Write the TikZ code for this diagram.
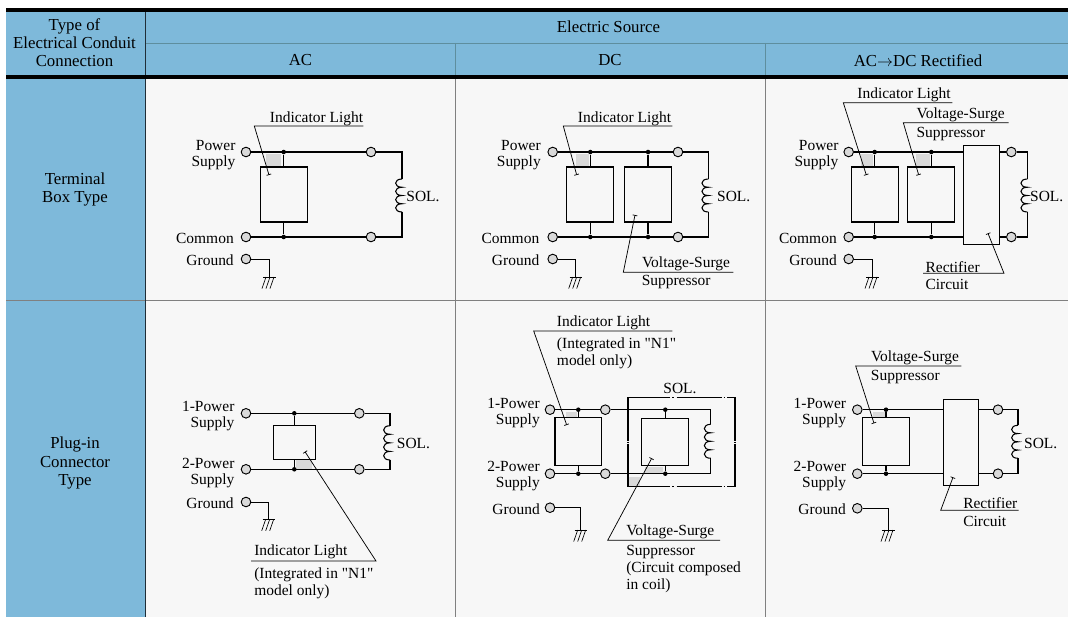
\documentclass[tikz,border=0pt]{standalone}
\usepackage{fontspec}
\setmainfont{Liberation Serif}
\newfontfamily\plainfont{Liberation Serif}
\usetikzlibrary{arrows.meta}
\definecolor{headblue}{HTML}{7EB9DA}
\definecolor{cellgray}{HTML}{F7F7F7}
\definecolor{patchgray}{HTML}{D9D9D9}
\definecolor{headline}{HTML}{5E8E9E}
\tikzset{
  head/.style={inner sep=0,align=center,font=\fontsize{12.6}{13.6}\selectfont},
  lab/.style={inner sep=0,yshift=-1pt,font=\plainfont\fontsize{11.6}{12}\selectfont},
  rlab/.style={lab,anchor=east,align=right},
  llab/.style={lab,anchor=west,align=left},
  wire/.style={line width=0.8pt},
  term/.style={circle,draw,fill=patchgray,line width=0.7pt,inner sep=0,minimum size=7.2pt},
  junc/.style={circle,fill,inner sep=0,minimum size=3.4pt},
  unit/.style={draw,line width=0.8pt,inner sep=0},
  leader/.style={line width=0.55pt,-{Bar[width=3.6pt,length=0pt,line width=0.55pt]}}
}
\begin{document}
\begin{tikzpicture}[x=0.75pt,y=-0.75pt]
\useasboundingbox (0,0) rectangle (1068,617);
% table
\fill[cellgray] (6,79) rectangle (1068,617);
\fill[headblue] (6,11) rectangle (1068,75);
\fill[headblue] (6,79) rectangle (145,617);
\draw[headline,line width=0.7pt] (145,43) -- (1068,43);
\draw[headline,line width=0.7pt] (455,43) -- (455,75);
\draw[headline,line width=0.7pt] (765,43) -- (765,75);
\draw[gray,line width=0.7pt] (6,300.5) -- (1068,300.5);
\draw[gray,line width=0.7pt] (455,79) -- (455,617);
\draw[gray,line width=0.7pt] (765,79) -- (765,617);
\draw[black!75!headblue,line width=0.7pt] (145,11) -- (145,617);
\draw[line width=2.6pt] (6,9.8) -- (1068,9.8);
\draw[line width=2.6pt] (6,77) -- (1068,77);
\node[head] (typecell) at (74.5,43) {Type of\\Electrical Conduit\\Connection};
\node[head] (sourcecell) at (608.5,26.5) {Electric Source};
\node[head] (accell) at (300.5,60.5) {AC};
\node[head] (dccell) at (610,60.5) {DC};
\node[head] (rectcell) at (918,60.5) {AC$\rightarrow$DC Rectified};
\node[head] (boxcell) at (75,189.5) {Terminal\\[0.6pt]Box Type};
\node[head] (plugcell) at (75,463) {Plug-in\\[0.6pt]Connector\\[0.6pt]Type};
% gray patches under the leaders
\foreach \xa/\ya/\xb/\yb in {266/154/281/167, 575.7/154/589/167, 861.3/154/873/167, 916.3/154/929.7/167,
  295.7/460/311.7/469, 566/411.7/577.3/417.7, 645/466.7/663.3/473, 629.3/476.7/640/486, 873/412.3/884.7/417.3}
  \fill[patchgray] (\xa,\ya) rectangle (\xb,\yb);
% terminals
\foreach \t/\x/\y in {aP/246/152, aPr/371/152, aC/246/237, aCr/371/237, aG/246/259,
  bP/552.7/152, bPr/678/152, bC/552.7/237, bCr/678/237, bG/552.7/259,
  cP/848.7/152, cPr/1011.3/152, cC/848.7/237, cCr/1011.3/237, cG/848.7/259,
  dP/246/413.3, dPr/359.3/413.3, dC/246/469.3, dCr/359.3/469.3, dG/246/502,
  eP/550/409.7, ePr/605.3/409.7, eC/550/473.7, eCr/605.3/473.7, eG/550/507.7,
  fP/857.3/409.7, fPr/998/409.7, fC/857.3/473.7, fCr/998/473.7, fG/857.3/508.3}
  \node[term] (\t) at (\x,\y) {};
% junction dots
\foreach \t/\x/\y in {aT/283.7/152, aB/283.7/237, bT/590.3/152, bB/590.3/237, bTs/648/152, bBs/648/237,
  cT/874.7/152, cB/874.7/237, cTs/931.3/152, cBs/931.3/237, dT/294.3/413.3, dB/294.3/469.3,
  eT/578.3/409.7, eB/578.3/473.7, eTs/665.3/409.7, eBs/665.3/473.7, fT/886/409.7, fB/886/473.7}
  \node[junc] (\t) at (\x,\y) {};
% boxes
\foreach \t/\x/\y/\w/\h in {aL/283.7/194.5/47/55, bL/590.3/194.5/47/55, bS/648/194.5/47/55,
  cL/874.7/194.5/47/55, cS/931.3/194.5/47/55, cR/981.7/194.8/36/99, dL/294.3/442.5/41.5/33.5,
  eL/578.3/441.8/46.6/47.7, eS/665.3/442/47/47.4, fL/886/441.3/46.4/48, fR/961.2/442.5/35/85.6}
  \node[unit,minimum width=\w*0.75pt,minimum height=\h*0.75pt] (\t) at (\x,\y) {};
% solenoid coils
\foreach \t/\x/\a/\b in {a/402/179/212, b/708.3/179/212, c/1027.3/179/212, d/390/425.7/460,
  e/710.7/424.3/458.3, f/1018/425.3/458.3} {
  \pgfmathsetmacro{\s}{(\b-\a)/4}
  \coordinate (\t-top) at (\x,\a);
  \coordinate (\t-bot) at (\x,\b);
  \draw[wire] (\t-top) foreach \i in {1,...,4} { .. controls +(-8.5,0) and +(-8.5,0) .. ++(0,\s) };
}
% ground symbols
\foreach \t/\x/\y in {a/269/277, b/575.7/277, c/872/277, d/268.7/519.3, e/580.7/530, f/888/530} {
  \coordinate (\t-gnd) at (\x,\y);
  \draw[line width=0.7pt] (\t G) -| (\t-gnd);
  \draw[line width=0.7pt] ([xshift=-4.5pt]\t-gnd) -- ([xshift=5pt]\t-gnd);
  \foreach \d in {-3,1,5}
    \draw[line width=0.5pt] ([xshift=\d*0.75pt]\t-gnd) -- ++(-4,11.5);
}
% wiring
\draw[wire] (aP) -- (aPr) -| (a-top);
\draw[wire] (aC) -- (aCr) -| (a-bot);
\draw[wire] (aT) -- (aL);
\draw[wire] (aB) -- (aL);
\draw[wire] (bP) -- (bPr) -| (b-top);
\draw[wire] (bC) -- (bCr) -| (b-bot);
\draw[wire] (bT) -- (bL);
\draw[wire] (bB) -- (bL);
\draw[wire] (bTs) -- (bS);
\draw[wire] (bBs) -- (bS);
\draw[wire] (cP) -- (cP -| cR.west);
\draw[wire] (cC) -- (cC -| cR.west);
\draw[wire] (cPr -| cR.east) -- (cPr) -| (c-top);
\draw[wire] (cCr -| cR.east) -- (cCr) -| (c-bot);
\draw[wire] (cT) -- (cL);
\draw[wire] (cB) -- (cL);
\draw[wire] (cTs) -- (cS);
\draw[wire] (cBs) -- (cS);
\draw[wire] (dP) -- (dPr) -| (d-top);
\draw[wire] (dC) -- (dCr) -| (d-bot);
\draw[wire] (dT) -- (dL);
\draw[wire] (dB) -- (dL);
\draw[wire] (eP) -- (ePr) -| (e-top);
\draw[wire] (eC) -- (eCr) -| (e-bot);
\draw[wire] (eT) -- (eL);
\draw[wire] (eB) -- (eL);
\draw[wire] (eTs) -- (eS);
\draw[wire] (eBs) -- (eS);
\draw[wire] (fP) -- (fP -| fR.west);
\draw[wire] (fC) -- (fC -| fR.west);
\draw[wire] (fPr -| fR.east) -- (fPr) -| (f-top);
\draw[wire] (fCr -| fR.east) -- (fCr) -| (f-bot);
\draw[wire] (fT) -- (fL);
\draw[wire] (fB) -- (fL);
% dash-dot solenoid case
\draw[wire] (670,397.3) -| (628,440.5) (628,443.5) |- (670,486.7)
  (672,397.3) -- (674,397.3) (672,486.7) -- (674,486.7)
  (676.7,397.3) -- (721.7,397.3) (676.7,486.7) -- (721.7,486.7)
  (723.5,397.3) -- (725,397.3) (723.5,486.7) -- (725,486.7)
  (727,397.3) -| (735,440.5) (735,443.5) |- (727,486.7)
  (628,441.5) -- (628,442.5) (735,441.5) -- (735,442.5);
% leaders
\foreach \t/\xa/\ya/\xb/\yb/\xc/\yc in {aI/363.3/126/254.3/126/269/175, bI/672.3/126/563.3/126/576.7/175,
  bV/733.3/272.3/623.3/272.3/635/215, cI/952.3/102.7/843.3/102.7/866.3/175,
  cV/1008.7/122.7/903.3/122.7/918.7/175, cR/923/273.3/1004/273.3/988/233.3,
  dI/251/561/376/561/305/451.7, eI/672.3/331/533.7/331/566.7/425, eV/720/540.3/607.7/540.3/651.7/458.3,
  fV/961.3/366/855.7/366/874/423.3, fR/1018.7/510.3/940.7/510.3/953/477.3} {
  \coordinate (\t-a) at (\xa,\ya);
  \coordinate (\t-b) at (\xb,\yb);
  \coordinate (\t-c) at (\xc,\yc);
  \draw[leader] (\t-a) -- (\t-b) -- (\t-c);
}
% labels, terminal box row
\node[rlab] (aPlab) at (235.7,153.5) {Power\\Supply};
\node[rlab] (aClab) at (234,237.3) {Common};
\node[rlab] (aGlab) at (234,259.3) {Ground};
\node[lab] (aIlab) at (316.5,117) {Indicator Light};
\node[lab] (aSol) at (423,195.3) {SOL.};
\node[rlab] (bPlab) at (541,153.5) {Power\\Supply};
\node[rlab] (bClab) at (539.5,237.3) {Common};
\node[rlab] (bGlab) at (539.5,259.3) {Ground};
\node[lab] (bIlab) at (624.5,117) {Indicator Light};
\node[lab] (bSol) at (733.7,195.3) {SOL.};
\node[lab] (bVlab) at (686,262.7) {Voltage-Surge};
\node[llab] (bSlab) at (641.5,280.7) {Suppressor};
\node[rlab] (cPlab) at (838.7,153.5) {Power\\Supply};
\node[rlab] (cClab) at (837,237.3) {Common};
\node[rlab] (cGlab) at (837,259.3) {Ground};
\node[lab] (cIlab) at (904,93) {Indicator Light};
\node[lab] (cVlab) at (960.7,113.3) {Voltage-Surge};
\node[llab] (cSlab) at (916.3,132.3) {Suppressor};
\node[lab] (cSol) at (1046.7,195.3) {SOL.};
\node[llab] (cRlab) at (925.3,265.7) {Rectifier};
\node[llab] (cClabb) at (925.3,282.7) {Circuit};
% labels, plug-in row
\node[rlab] (dPlab) at (234.7,414.7) {1-Power\\Supply};
\node[rlab] (dClab) at (234.7,471.5) {2-Power\\Supply};
\node[rlab] (dGlab) at (234,502) {Ground};
\node[lab] (dSol) at (413.5,442) {SOL.};
\node[llab] (dIlab) at (254,550.7) {Indicator Light};
\node[llab] (dNlab) at (254,582) {(Integrated in "N1"\\[1.2pt]model only)};
\node[rlab] (ePlab) at (540,412) {1-Power\\Supply};
\node[rlab] (eClab) at (540,474.8) {2-Power\\Supply};
\node[rlab] (eGlab) at (540,508.3) {Ground};
\node[llab] (eIlab) at (556.7,321.7) {Indicator Light};
\node[llab] (eNlab) at (556.7,352) {(Integrated in "N1"\\[1.2pt]model only)};
\node[lab] (eSol) at (680,386.7) {SOL.};
\node[llab] (eVlab) at (626,530.3) {Voltage-Surge};
\node[llab] (eSlab) at (626,567.5) {Suppressor\\[0.6pt](Circuit composed\\[0.6pt]in coil)};
\node[rlab] (fPlab) at (846.3,411.8) {1-Power\\Supply};
\node[rlab] (fClab) at (846.3,474.8) {2-Power\\Supply};
\node[rlab] (fGlab) at (846,508.3) {Ground};
\node[lab] (fVlab) at (915,356) {Voltage-Surge};
\node[llab] (fSlab) at (870.7,375.7) {Suppressor};
\node[lab] (fSol) at (1040.7,442.3) {SOL.};
\node[llab] (fRlab) at (963,501.3) {Rectifier};
\node[llab] (fClabb) at (963,520) {Circuit};
\end{tikzpicture}
\end{document}
